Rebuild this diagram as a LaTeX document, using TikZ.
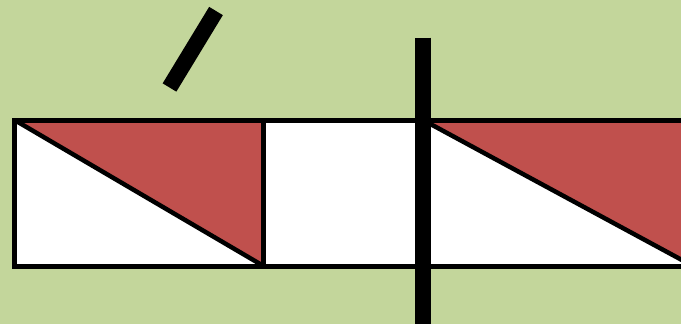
\documentclass[tikz,border=0pt]{standalone}
\definecolor{bggreen}{HTML}{C3D69B}
\definecolor{redfill}{HTML}{C0504D}
\begin{document}
\begin{tikzpicture}[x=1pt,y=-1pt,
  outline/.style={draw=black,line width=5pt},
  thickbar/.style={draw=black,line width=15.5pt,line cap=butt}]
\fill[bggreen] (0,0) rectangle (681,324);
\useasboundingbox (0,0) rectangle (681,324);
\clip (0,0) rectangle (681,324);
\coordinate (tl) at (14.5,120);
\coordinate (bl) at (14.5,266);
\coordinate (tm) at (263.5,120);
\coordinate (bm) at (263.5,266);
\coordinate (tr) at (700,120);
\coordinate (br) at (700,266);
\coordinate (rtl) at (423,120);
\coordinate (rtr) at (693,120);
\coordinate (rbr) at (693,266);
\fill[white] (tl) rectangle (br);
\fill[redfill] (tl) -- (tm) -- (bm) -- cycle;
\fill[redfill] (rtl) -- (rtr) -- (rbr) -- cycle;
\draw[outline,line width=4.5pt] (tl) -- (bm);
\draw[outline] (tm) -- (bm);
\draw[outline,line width=4.5pt] (rtl) -- (rbr);
\draw[outline] (tr) -- (tl) -- (bl) -- (br);
\coordinate (bartop) at (423,37.5);
\coordinate (barbot) at (423,330);
\draw[thickbar] (bartop) -- (barbot);
\coordinate (slasha) at (169.5,87.5);
\coordinate (slashb) at (216,11);
\draw[thickbar,line width=16pt] (slasha) -- (slashb);
\end{tikzpicture}
\end{document}
